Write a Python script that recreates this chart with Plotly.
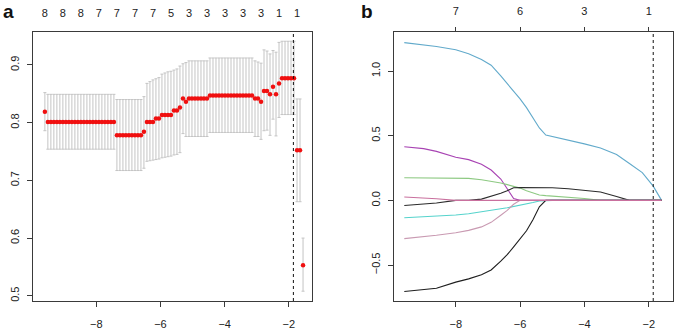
import plotly.graph_objects as go

W, H = 675, 334

# ---------------- Panel a: cross-validation curve ----------------
LOG_LAMBDA = [
    -9.600, -9.507, -9.413, -9.320, -9.226, -9.133, -9.039, -8.946, -8.852, -8.759,
    -8.665, -8.572, -8.478, -8.385, -8.291, -8.198, -8.104, -8.011, -7.917, -7.824,
    -7.730, -7.637, -7.543, -7.450, -7.356, -7.263, -7.169, -7.076, -6.982, -6.889,
    -6.795, -6.702, -6.608, -6.515, -6.421, -6.328, -6.234, -6.141, -6.047, -5.954,
    -5.860, -5.767, -5.673, -5.580, -5.486, -5.393, -5.299, -5.206, -5.112, -5.019,
    -4.925, -4.832, -4.738, -4.645, -4.551, -4.458, -4.364, -4.271, -4.177, -4.084,
    -3.990, -3.897, -3.803, -3.710, -3.616, -3.523, -3.429, -3.336, -3.242, -3.149,
    -3.055, -2.962, -2.868, -2.775, -2.681, -2.588, -2.494, -2.401, -2.307, -2.214,
    -2.120, -2.027, -1.933, -1.840, -1.746, -1.653, -1.559,
]
CV_MEAN = [
    0.819, 0.801, 0.801, 0.801, 0.801, 0.801, 0.801, 0.801, 0.801, 0.801,
    0.801, 0.801, 0.801, 0.801, 0.801, 0.801, 0.801, 0.801, 0.801, 0.801,
    0.801, 0.801, 0.801, 0.801, 0.778, 0.778, 0.778, 0.778, 0.778, 0.778,
    0.778, 0.778, 0.778, 0.784, 0.801, 0.801, 0.801, 0.807, 0.807, 0.813,
    0.813, 0.813, 0.813, 0.821, 0.821, 0.826, 0.842, 0.836, 0.842, 0.842,
    0.842, 0.842, 0.842, 0.842, 0.842, 0.847, 0.847, 0.847, 0.847, 0.847,
    0.847, 0.847, 0.847, 0.847, 0.847, 0.847, 0.847, 0.847, 0.847, 0.847,
    0.842, 0.842, 0.836, 0.855, 0.855, 0.849, 0.862, 0.849, 0.868, 0.877,
    0.877, 0.877, 0.877, 0.877, 0.752, 0.752, 0.553,
]
CV_UPPER = [
    0.852, 0.849, 0.849, 0.849, 0.849, 0.849, 0.849, 0.849, 0.849, 0.849,
    0.849, 0.849, 0.849, 0.849, 0.849, 0.849, 0.849, 0.849, 0.849, 0.849,
    0.849, 0.849, 0.849, 0.849, 0.840, 0.840, 0.840, 0.840, 0.840, 0.840,
    0.840, 0.840, 0.840, 0.845, 0.868, 0.871, 0.874, 0.876, 0.878, 0.884,
    0.886, 0.888, 0.889, 0.891, 0.893, 0.898, 0.902, 0.904, 0.907, 0.907,
    0.907, 0.907, 0.907, 0.907, 0.907, 0.912, 0.912, 0.912, 0.912, 0.912,
    0.912, 0.912, 0.912, 0.912, 0.912, 0.912, 0.912, 0.912, 0.912, 0.912,
    0.907, 0.905, 0.903, 0.926, 0.924, 0.919, 0.925, 0.922, 0.939, 0.941,
    0.941, 0.941, 0.941, 0.941, 0.841, 0.841, 0.600,
]
CV_LOWER = [
    0.786, 0.754, 0.754, 0.754, 0.754, 0.754, 0.754, 0.754, 0.754, 0.754,
    0.754, 0.754, 0.754, 0.754, 0.754, 0.754, 0.754, 0.754, 0.754, 0.754,
    0.754, 0.754, 0.754, 0.754, 0.717, 0.717, 0.717, 0.717, 0.717, 0.717,
    0.717, 0.717, 0.717, 0.721, 0.733, 0.734, 0.735, 0.736, 0.737, 0.739,
    0.740, 0.741, 0.742, 0.744, 0.745, 0.748, 0.781, 0.776, 0.776, 0.776,
    0.776, 0.776, 0.776, 0.776, 0.776, 0.783, 0.783, 0.783, 0.783, 0.783,
    0.783, 0.783, 0.783, 0.783, 0.783, 0.783, 0.783, 0.783, 0.783, 0.783,
    0.776, 0.776, 0.771, 0.786, 0.787, 0.778, 0.806, 0.777, 0.809, 0.814,
    0.814, 0.814, 0.814, 0.814, 0.663, 0.663, 0.508,
]
TOP_A_X = [-9.600, -9.039, -8.478, -7.917, -7.356, -6.795, -6.234, -5.673,
           -5.112, -4.551, -3.990, -3.429, -2.868, -2.307, -1.746]
TOP_A_LABELS = ["8", "8", "8", "7", "7", "7", "7", "5", "3", "3", "3", "3", "3", "1", "1"]
A_XTICKS = [-8, -6, -4, -2]
A_YTICKS = [0.5, 0.6, 0.7, 0.8, 0.9]
SELECTED_LOG_LAMBDA = -1.86

# ---------------- Panel b: coefficient paths ----------------
PATH_X = [-9.6, -9.0, -8.6, -8.0, -7.6, -7.2, -6.9, -6.6, -6.4, -6.2, -6.0, -5.8,
          -5.6, -5.4, -5.2, -5.0, -4.5, -4.0, -3.5, -3.0, -2.6, -2.2, -1.86, -1.6]
COEF_1 = [1.220, 1.205, 1.190, 1.165, 1.134, 1.090, 1.045, 0.962, 0.905, 0.842, 0.785, 0.717,
          0.640, 0.560, 0.505, 0.494, 0.465, 0.437, 0.405, 0.355, 0.285, 0.215, 0.110, 0.0]
COEF_2 = [0.415, 0.400, 0.379, 0.333, 0.315, 0.280, 0.235, 0.165, 0.090, 0.015, 0.0, 0.0,
          0.0, 0.0, 0.0, 0.0, 0.0, 0.0, 0.0, 0.0, 0.0, 0.0, 0.0, 0.0]
COEF_3 = [0.175, 0.175, 0.175, 0.175, 0.170, 0.160, 0.150, 0.135, 0.122, 0.110, 0.095, 0.075,
          0.058, 0.042, 0.037, 0.033, 0.026, 0.015, 0.0, 0.0, 0.0, 0.0, 0.0, 0.0]
COEF_4 = [-0.039, -0.030, -0.020, 0.0, 0.0, 0.010, 0.030, 0.055, 0.075, 0.098, 0.100, 0.100,
          0.100, 0.100, 0.099, 0.098, 0.090, 0.080, 0.065, 0.030, 0.0, 0.0, 0.0, 0.0]
COEF_5 = [-0.134, -0.128, -0.124, -0.113, -0.103, -0.090, -0.078, -0.065, -0.057, -0.048, -0.038, -0.028,
          -0.017, -0.005, 0.0, 0.0, 0.0, 0.0, 0.0, 0.0, 0.0, 0.0, 0.0, 0.0]
COEF_6 = [-0.296, -0.283, -0.270, -0.250, -0.232, -0.205, -0.170, -0.115, -0.077, -0.030, 0.0, 0.0,
          0.0, 0.0, 0.0, 0.0, 0.0, 0.0, 0.0, 0.0, 0.0, 0.0, 0.0, 0.0]
COEF_7 = [-0.704, -0.690, -0.680, -0.632, -0.607, -0.575, -0.538, -0.470, -0.420, -0.360, -0.300, -0.235,
          -0.150, -0.050, 0.0, 0.0, 0.0, 0.0, 0.0, 0.0, 0.0, 0.0, 0.0, 0.0]
COEF_8 = [0.026, 0.020, 0.013, 0.0, 0.0, 0.0, 0.0, 0.0, 0.0, 0.0, 0.0, 0.0,
          0.0, 0.0, 0.0, 0.0, 0.0, 0.0, 0.0, 0.0, 0.0, 0.0, 0.0, 0.0]
COEF_SERIES = [COEF_1, COEF_2, COEF_3, COEF_4, COEF_5, COEF_6, COEF_7, COEF_8]
COEF_COLORS = ["#62AACB", "#A843B3", "#8DC982", "#2B2B2B", "#55D3CC", "#C99AB2", "#1E1E1E", "#C9709E"]
TOP_B_X = [-8, -6, -4, -2]
TOP_B_LABELS = ["7", "6", "3", "1"]
B_XTICKS = [-8, -6, -4, -2]
B_YTICKS = [-0.5, 0.0, 0.5, 1.0]

FONT = "Arial, Liberation Sans, sans-serif"
TXT = "#222222"
AXC = "#3a3a3a"

fig = go.Figure()

fig.add_trace(go.Scatter(
    x=LOG_LAMBDA, y=CV_MEAN, mode="markers",
    marker=dict(color="#F01010", size=4.5, line=dict(width=0)),
    error_y=dict(type="data", symmetric=False,
                 array=[u - m for u, m in zip(CV_UPPER, CV_MEAN)],
                 arrayminus=[m - l for m, l in zip(CV_MEAN, CV_LOWER)],
                 color="#C4C4C4", thickness=1, width=1.5),
    xaxis="x", yaxis="y", showlegend=False, hoverinfo="skip"))

for ys, col in zip(COEF_SERIES, COEF_COLORS):
    fig.add_trace(go.Scatter(x=PATH_X, y=ys, mode="lines",
                             line=dict(color=col, width=1.1),
                             xaxis="x2", yaxis="y2", showlegend=False, hoverinfo="skip"))

# invisible traces to activate top axes
fig.add_trace(go.Scatter(x=[None], y=[None], xaxis="x3", yaxis="y", showlegend=False))
fig.add_trace(go.Scatter(x=[None], y=[None], xaxis="x4", yaxis="y2", showlegend=False))

ydom = [1 - 301 / H, 1 - 32 / H]
common_ax = dict(showgrid=False, zeroline=False, showline=True, linecolor=AXC, linewidth=1,
                 mirror=True, ticks="outside", ticklen=5, tickcolor=AXC, tickwidth=1,
                 tickfont=dict(family=FONT, size=11, color=TXT))

fig.update_layout(
    width=W, height=H, margin=dict(l=0, r=0, t=0, b=0),
    paper_bgcolor="white", plot_bgcolor="white",
    xaxis=dict(domain=[33 / W, 312 / W], range=[-9.97, -1.28], tickvals=A_XTICKS,
               anchor="y", ticklabelstandoff=8, **common_ax),
    yaxis=dict(domain=ydom, range=[0.491, 0.957], tickvals=A_YTICKS, tickformat=".1f",
               tickangle=-90, anchor="x", ticklabelstandoff=4, **common_ax),
    xaxis3=dict(overlaying="x", side="top", range=[-9.97, -1.28], anchor="y",
                tickvals=TOP_A_X, ticktext=TOP_A_LABELS, ticks="", showline=False,
                showgrid=False, zeroline=False, ticklabelstandoff=12,
                tickfont=dict(family=FONT, size=11, color=TXT)),
    xaxis2=dict(domain=[394 / W, 673 / W], range=[-9.92, -1.245], tickvals=B_XTICKS,
                anchor="y2", ticklabelstandoff=8, **common_ax),
    yaxis2=dict(domain=ydom, range=[-0.778, 1.302], tickvals=B_YTICKS, tickformat=".1f",
                tickangle=-90, anchor="x2", ticklabelstandoff=4, **common_ax),
    xaxis4=dict(overlaying="x2", side="top", range=[-9.92, -1.245], anchor="y2",
                tickvals=TOP_B_X, ticktext=TOP_B_LABELS, ticks="outside", ticklen=4,
                tickcolor=AXC, showline=False, showgrid=False, zeroline=False,
                ticklabelstandoff=8, tickfont=dict(family=FONT, size=11, color=TXT)),
    shapes=[
        dict(type="line", xref="x", yref="y domain", x0=SELECTED_LOG_LAMBDA, x1=SELECTED_LOG_LAMBDA,
             y0=0, y1=1, line=dict(color="#111111", width=1, dash="dot")),
        dict(type="line", xref="x2", yref="y2 domain", x0=SELECTED_LOG_LAMBDA, x1=SELECTED_LOG_LAMBDA,
             y0=0, y1=1, line=dict(color="#111111", width=1, dash="dot")),
    ],
    annotations=[
        dict(text="<b>a</b>", x=8 / W, y=1 - 12 / H, xref="paper", yref="paper",
             showarrow=False, xanchor="center", yanchor="middle",
             font=dict(family=FONT, size=19, color="#111111")),
        dict(text="<b>b</b>", x=367 / W, y=1 - 12 / H, xref="paper", yref="paper",
             showarrow=False, xanchor="center", yanchor="middle",
             font=dict(family=FONT, size=19, color="#111111")),
    ],
)

fig.write_html("out.html")
